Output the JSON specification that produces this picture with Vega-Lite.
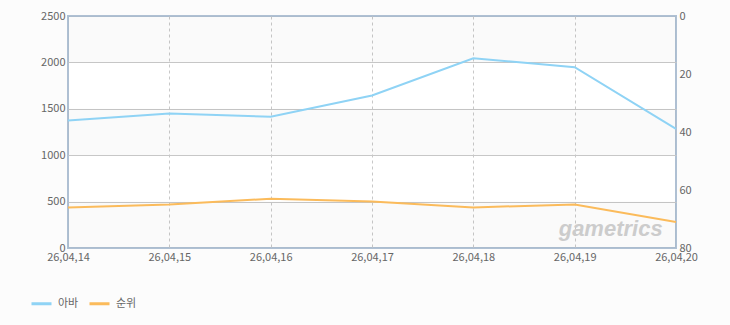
{
  "$schema": "https://vega.github.io/schema/vega-lite/v6.json",
  "width": 608,
  "height": 232,
  "autosize": {"type": "none"},
  "padding": {"left": 68, "top": 16, "right": 54, "bottom": 77},
  "background": "#fcfcfc",
  "config": {
    "font": "Noto Sans CJK KR",
    "view": {"fill": "#ffffff", "stroke": "#afc0d3", "strokeWidth": 2},
    "axis": {
      "labelFont": "Noto Sans CJK KR",
      "labelFontSize": 11,
      "labelColor": "#666666",
      "domain": false,
      "ticks": false,
      "gridColor": "#c8c8c8",
      "title": null
    },
    "legend": {"labelFont": "Noto Sans CJK KR"}
  },
  "datasets": {
    "series": [
      {"date": "26,04,14", "series": "아바", "value": 1374},
      {"date": "26,04,15", "series": "아바", "value": 1449},
      {"date": "26,04,16", "series": "아바", "value": 1414},
      {"date": "26,04,17", "series": "아바", "value": 1643},
      {"date": "26,04,18", "series": "아바", "value": 2045},
      {"date": "26,04,19", "series": "아바", "value": 1948},
      {"date": "26,04,20", "series": "아바", "value": 1284},
      {"date": "26,04,14", "series": "순위", "value": 66},
      {"date": "26,04,15", "series": "순위", "value": 65},
      {"date": "26,04,16", "series": "순위", "value": 63},
      {"date": "26,04,17", "series": "순위", "value": 64},
      {"date": "26,04,18", "series": "순위", "value": 66},
      {"date": "26,04,19", "series": "순위", "value": 65},
      {"date": "26,04,20", "series": "순위", "value": 71}
    ],
    "bands": [
      {"lo": 0, "hi": 500},
      {"lo": 1000, "hi": 1500},
      {"lo": 2000, "hi": 2500}
    ],
    "mark": [
      {"label": "gametrics", "date": "26,04,19", "pos": 130}
    ]
  },
  "layer": [
    {
      "layer": [
        {
          "data": {"name": "bands"},
          "mark": {"type": "rect", "fill": "#000000", "fillOpacity": 0.02},
          "encoding": {
            "y": {"field": "lo", "type": "quantitative", "scale": {"domain": [0, 2500], "nice": false}, "axis": {"values": [0, 500, 1000, 1500, 2000, 2500], "format": "d", "grid": true, "labelPadding": 3, "gridOpacity": {"condition": {"test": "datum.value === 0 || datum.value === 2500", "value": 0}, "value": 1}}},
            "y2": {"field": "hi"}
          }
        },
        {
          "data": {"name": "series"},
          "transform": [{"filter": "datum.series === '아바'"}],
          "mark": {"type": "line", "strokeWidth": 2},
          "encoding": {
            "x": {"field": "date", "type": "ordinal", "scale": {"type": "point", "padding": 0}, "axis": {"labelAngle": 0, "grid": true, "gridDash": [3, 3], "labelPadding": 3, "gridOpacity": {"condition": {"test": "datum.value === '26,04,14' || datum.value === '26,04,20'", "value": 0}, "value": 1}}},
            "y": {"field": "value", "type": "quantitative", "scale": {"domain": [0, 2500], "nice": false}, "axis": {"values": [0, 500, 1000, 1500, 2000, 2500], "format": "d", "grid": true, "labelPadding": 3, "gridOpacity": {"condition": {"test": "datum.value === 0 || datum.value === 2500", "value": 0}, "value": 1}}},
            "color": {
              "field": "series", "type": "nominal",
              "scale": {"domain": ["아바", "순위"], "range": ["#8fd3f5", "#fbbb5b"]},
              "legend": {"title": null, "orient": "none", "legendX": -38, "legendY": 276, "direction": "horizontal", "symbolType": "stroke", "symbolSize": 400, "symbolStrokeWidth": 3, "labelFontSize": 11, "labelColor": "#666666", "labelOffset": 5, "columnPadding": 4}
            }
          }
        },
        {
          "data": {"name": "mark"},
          "mark": {"type": "text", "font": "Liberation Sans", "fontSize": 22, "fontStyle": "italic", "fontWeight": "bold", "fill": "#cccccc", "align": "center", "baseline": "alphabetic", "dx": 36},
          "encoding": {
            "text": {"field": "label"},
            "x": {"field": "date", "type": "ordinal"},
            "y": {"field": "pos", "type": "quantitative"}
          }
        }
      ]
    },
    {
      "data": {"name": "series"},
      "transform": [{"filter": "datum.series === '순위'"}],
      "mark": {"type": "line", "strokeWidth": 2},
      "encoding": {
        "x": {"field": "date", "type": "ordinal", "scale": {"type": "point", "padding": 0}, "axis": {"labelAngle": 0, "grid": true, "gridDash": [3, 3], "labelPadding": 3, "gridOpacity": {"condition": {"test": "datum.value === '26,04,14' || datum.value === '26,04,20'", "value": 0}, "value": 1}}},
        "y": {"field": "value", "type": "quantitative", "scale": {"domain": [0, 80], "reverse": true, "nice": false}, "axis": {"orient": "right", "values": [0, 20, 40, 60, 80], "grid": false, "labelPadding": 3}},
        "color": {"field": "series", "type": "nominal"}
      }
    }
  ],
  "resolve": {"scale": {"y": "independent"}, "axis": {"y": "independent"}}
}
